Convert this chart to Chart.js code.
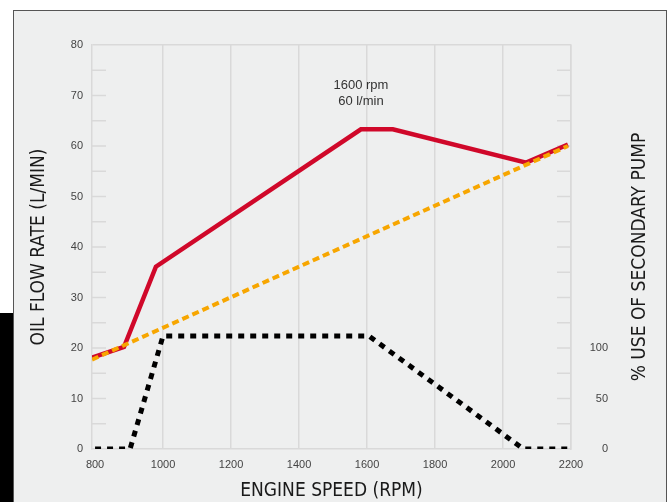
<!DOCTYPE html>
<html>
<head>
<meta charset="utf-8">
<script src="https://cdn.jsdelivr.net/npm/chart.js@4.4.1/dist/chart.umd.min.js"></script>
<style>
  body { margin: 0; background: #fff; }
  #wrap { position: relative; width: 672px; height: 502px; overflow: hidden; }
  #panel { position: absolute; left: 13px; top: 10px; width: 652px; height: 500px;
           background: #eeefef; border: 1px solid #555; }
  #bar { position: absolute; left: 0; top: 313px; width: 13px; height: 189px; background: #000; }
  #graph1 { position: absolute; left: 0; top: 0; }
</style>
</head>
<body>
<div id="wrap">
  <div id="panel"></div>
  <div id="bar"></div>
  <canvas id="graph1" width="672" height="502"></canvas>
</div>
<script>
// oil flow (l/min) against engine speed
var flowSpeed = [791, 885, 979, 1582, 1676, 2068, 2191];
var flowRate = [18.1, 20.2, 36.1, 63.3, 63.3, 56.7, 60.3];

// orange reference line
var refSpeed = [791, 2191];
var refRate = [17.7, 60];

// % use of secondary pump
var pumpSpeed = [800, 903, 1000, 1605, 2060, 2195];
var pumpUse = [0, 0, 112, 112, 0, 0];

var xTicks = [800, 1000, 1200, 1400, 1600, 1800, 2000, 2200];
var yTicks = [0, 10, 20, 30, 40, 50, 60, 70, 80];
var y2Ticks = [0, 50, 100];
var minorTicks = [5, 10, 15, 20, 25, 30, 35, 40, 45, 50, 55, 60, 65, 70, 75];

var gridCol = '#d9d9d9';
var condensed = '"DejaVu Sans Condensed", "Liberation Sans Narrow", "Liberation Sans", sans-serif';
var tickFont = { family: 'Liberation Sans', size: 11 };
var titleFont = { family: condensed, size: 19 };

function pts(xs, ys) {
    return xs.map(function(x, i) { return { x: x, y: ys[i] }; });
}
function plain(v) { return String(v); }

var extras = {
    id: 'extras',
    beforeDatasetsDraw: function(chart) {
        var c = chart.ctx, a = chart.chartArea, y = chart.scales.y;
        c.save();
        c.strokeStyle = gridCol;
        c.lineWidth = 1.5;
        minorTicks.forEach(function(v) {
            var py = y.getPixelForValue(v);
            c.beginPath();
            c.moveTo(a.left, py); c.lineTo(a.left + 14, py);
            c.moveTo(a.right - 14, py); c.lineTo(a.right, py);
            c.stroke();
        });
        c.restore();
    },
    afterDraw: function(chart) {
        var c = chart.ctx, a = chart.chartArea;
        var x = chart.scales.x, y = chart.scales.y;
        c.save();
        // peak note
        c.fillStyle = '#333';
        c.font = '13px "Liberation Sans"';
        c.textAlign = 'center';
        c.textBaseline = 'middle';
        var nx = x.getPixelForValue(1582);
        c.fillText('1600 rpm', nx, y.getPixelForValue(72));
        c.fillText('60 l/min', nx, y.getPixelForValue(68.8));
        // right axis title, reading upward
        c.fillStyle = '#1a1a1a';
        c.font = '19px ' + condensed;
        c.translate(640, (a.top + a.bottom) / 2 + 10);
        c.rotate(-Math.PI / 2);
        c.fillText('% USE OF SECONDARY PUMP', 0, 0);
        c.restore();
    }
};

var ctx = document.getElementById('graph1');
var myChart = new Chart(ctx, {
    type: 'line',
    data: {
        datasets: [{
            label: 'secondary pump',
            data: pts(pumpSpeed, pumpUse),
            yAxisID: 'y2',
            borderColor: '#000',
            borderWidth: 5,
            borderDash: [6, 6],
            borderCapStyle: 'butt'
        }, {
            label: 'reference',
            data: pts(refSpeed, refRate),
            yAxisID: 'y',
            borderColor: '#f7a600',
            borderWidth: 4,
            borderDash: [7, 4],
            borderCapStyle: 'butt'
        }, {
            label: 'oil flow',
            data: pts(flowSpeed, flowRate),
            yAxisID: 'y',
            borderColor: '#d0082a',
            borderWidth: 4.5
        }]
    },
    options: {
        responsive: false,
        animation: false,
        layout: { padding: { top: 45, left: 0, right: 64, bottom: 0 } },
        elements: { point: { radius: 0 }, line: { tension: 0 } },
        plugins: { legend: { display: false }, tooltip: { enabled: false } },
        scales: {
            x: {
                type: 'linear',
                min: 791,
                max: 2200,
                afterBuildTicks: function(s) { s.ticks = xTicks.map(function(v) { return { value: v }; }); },
                afterFit: function(s) { s.height = 53; },
                grid: {
                    color: function(c) { return c.tick && c.tick.value === 800 ? 'rgba(0,0,0,0)' : gridCol; },
                    lineWidth: 1.5,
                    drawTicks: false
                },
                border: { color: gridCol, width: 1.5 },
                ticks: { color: '#444', font: tickFont, padding: 9, maxRotation: 0, callback: plain },
                title: { display: true, text: 'ENGINE SPEED (RPM)', color: '#1a1a1a', font: titleFont, padding: { top: 0, bottom: 0 } }
            },
            y: {
                position: 'left',
                min: 0,
                max: 80,
                afterBuildTicks: function(s) { s.ticks = yTicks.map(function(v) { return { value: v }; }); },
                afterFit: function(s) { s.width = 92; },
                grid: {
                    color: function(c) { return c.tick && c.tick.value === 80 ? gridCol : 'rgba(0,0,0,0)'; },
                    lineWidth: 1.5,
                    drawTicks: false
                },
                border: { color: gridCol, width: 1.5 },
                ticks: { color: '#444', font: tickFont, padding: 9, callback: plain },
                title: { display: true, text: 'OIL FLOW RATE (L/MIN)', color: '#1a1a1a', font: titleFont, padding: { top: 28, bottom: 0 } }
            },
            y2: {
                position: 'right',
                min: 0,
                max: 400,
                afterBuildTicks: function(s) { s.ticks = y2Ticks.map(function(v) { return { value: v }; }); },
                afterFit: function(s) { s.width = 37; },
                grid: { display: false, drawTicks: false },
                border: { color: gridCol, width: 1.5 },
                ticks: { color: '#444', font: tickFont, padding: 19, crossAlign: 'far', callback: plain }
            }
        }
    },
    plugins: [extras]
});
</script>
</body>
</html>
